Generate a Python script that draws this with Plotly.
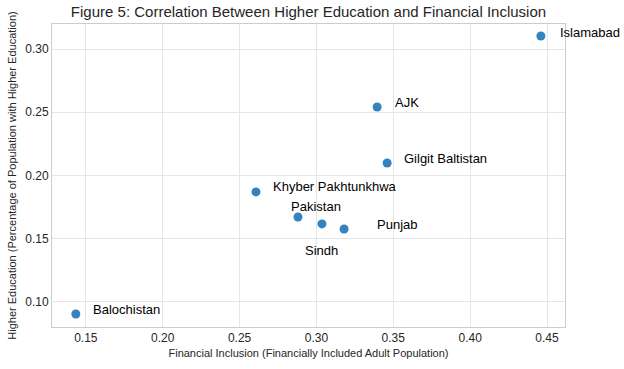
import plotly.graph_objects as go

regions = ["Islamabad", "AJK", "Gilgit Baltistan", "Khyber Pakhtunkhwa",
           "Pakistan", "Sindh", "Punjab", "Balochistan"]
financial_inclusion = [0.446, 0.3395, 0.346, 0.2607, 0.288, 0.3036, 0.318, 0.1435]
higher_education = [0.3103, 0.2542, 0.2099, 0.187, 0.1672, 0.1617, 0.1577, 0.0905]

x_ticks = [0.15, 0.20, 0.25, 0.30, 0.35, 0.40, 0.45]
y_ticks = [0.10, 0.15, 0.20, 0.25, 0.30]

# label placement (pixel shifts, anchor)
label_style = {
    "Islamabad": (17, 4, "left"),
    "AJK": (16, 4, "left"),
    "Gilgit Baltistan": (15, 4, "left"),
    "Khyber Pakhtunkhwa": (15, 5, "left"),
    "Pakistan": (18, 10, "center"),
    "Sindh": (0, -27, "center"),
    "Punjab": (31, 4, "left"),
    "Balochistan": (15, 4, "left"),
}

fig = go.Figure()
fig.add_trace(go.Scatter(
    x=financial_inclusion, y=higher_education, mode="markers",
    marker=dict(size=9, color="#3283be"), showlegend=False,
))

for name, xv, yv in zip(regions, financial_inclusion, higher_education):
    dx, dy, mode = label_style[name]
    xa = "left" if mode == "left" else "center"
    fig.add_annotation(x=xv, y=yv, text=name, showarrow=False,
                       xanchor=xa, yanchor="middle", xshift=dx, yshift=dy,
                       font=dict(family="Liberation Sans, Arial", size=13, color="#000000"))

axis_common = dict(showgrid=True, gridcolor="#e6e6e6", gridwidth=1,
                   showline=True, linecolor="#cccccc", linewidth=1, mirror=True,
                   zeroline=False, ticks="", automargin=False,
                   tickfont=dict(family="Liberation Sans, Arial", size=12, color="#262626"))

fig.update_layout(
    width=624, height=369,
    margin=dict(l=52, r=59, t=24, b=42),
    paper_bgcolor="white", plot_bgcolor="white",
    title=dict(text="Figure 5: Correlation Between Higher Education and Financial Inclusion",
               x=0.5, xref="paper", xanchor="center", y=0.968, yanchor="middle",
               font=dict(family="Liberation Sans, Arial", size=15, color="#262626")),
    xaxis=dict(range=[0.128, 0.4617], tickvals=x_ticks,
               ticktext=[f"{v:.2f}" for v in x_ticks],
               title=dict(text="Financial Inclusion (Financially Included Adult Population)",
                          font=dict(family="Liberation Sans, Arial", size=11, color="#262626"),
                          standoff=4),
               **axis_common),
    yaxis=dict(range=[0.0802, 0.3198], tickvals=y_ticks,
               ticktext=[f"{v:.2f}" for v in y_ticks],
               title=dict(text="Higher Education (Percentage of Population with Higher Education)",
                          font=dict(family="Liberation Sans, Arial", size=11, color="#262626"),
                          standoff=6),
               **axis_common),
)

fig.write_html("out.html", config={"displayModeBar": False},
               post_script="document.body.style.margin='0px';")
